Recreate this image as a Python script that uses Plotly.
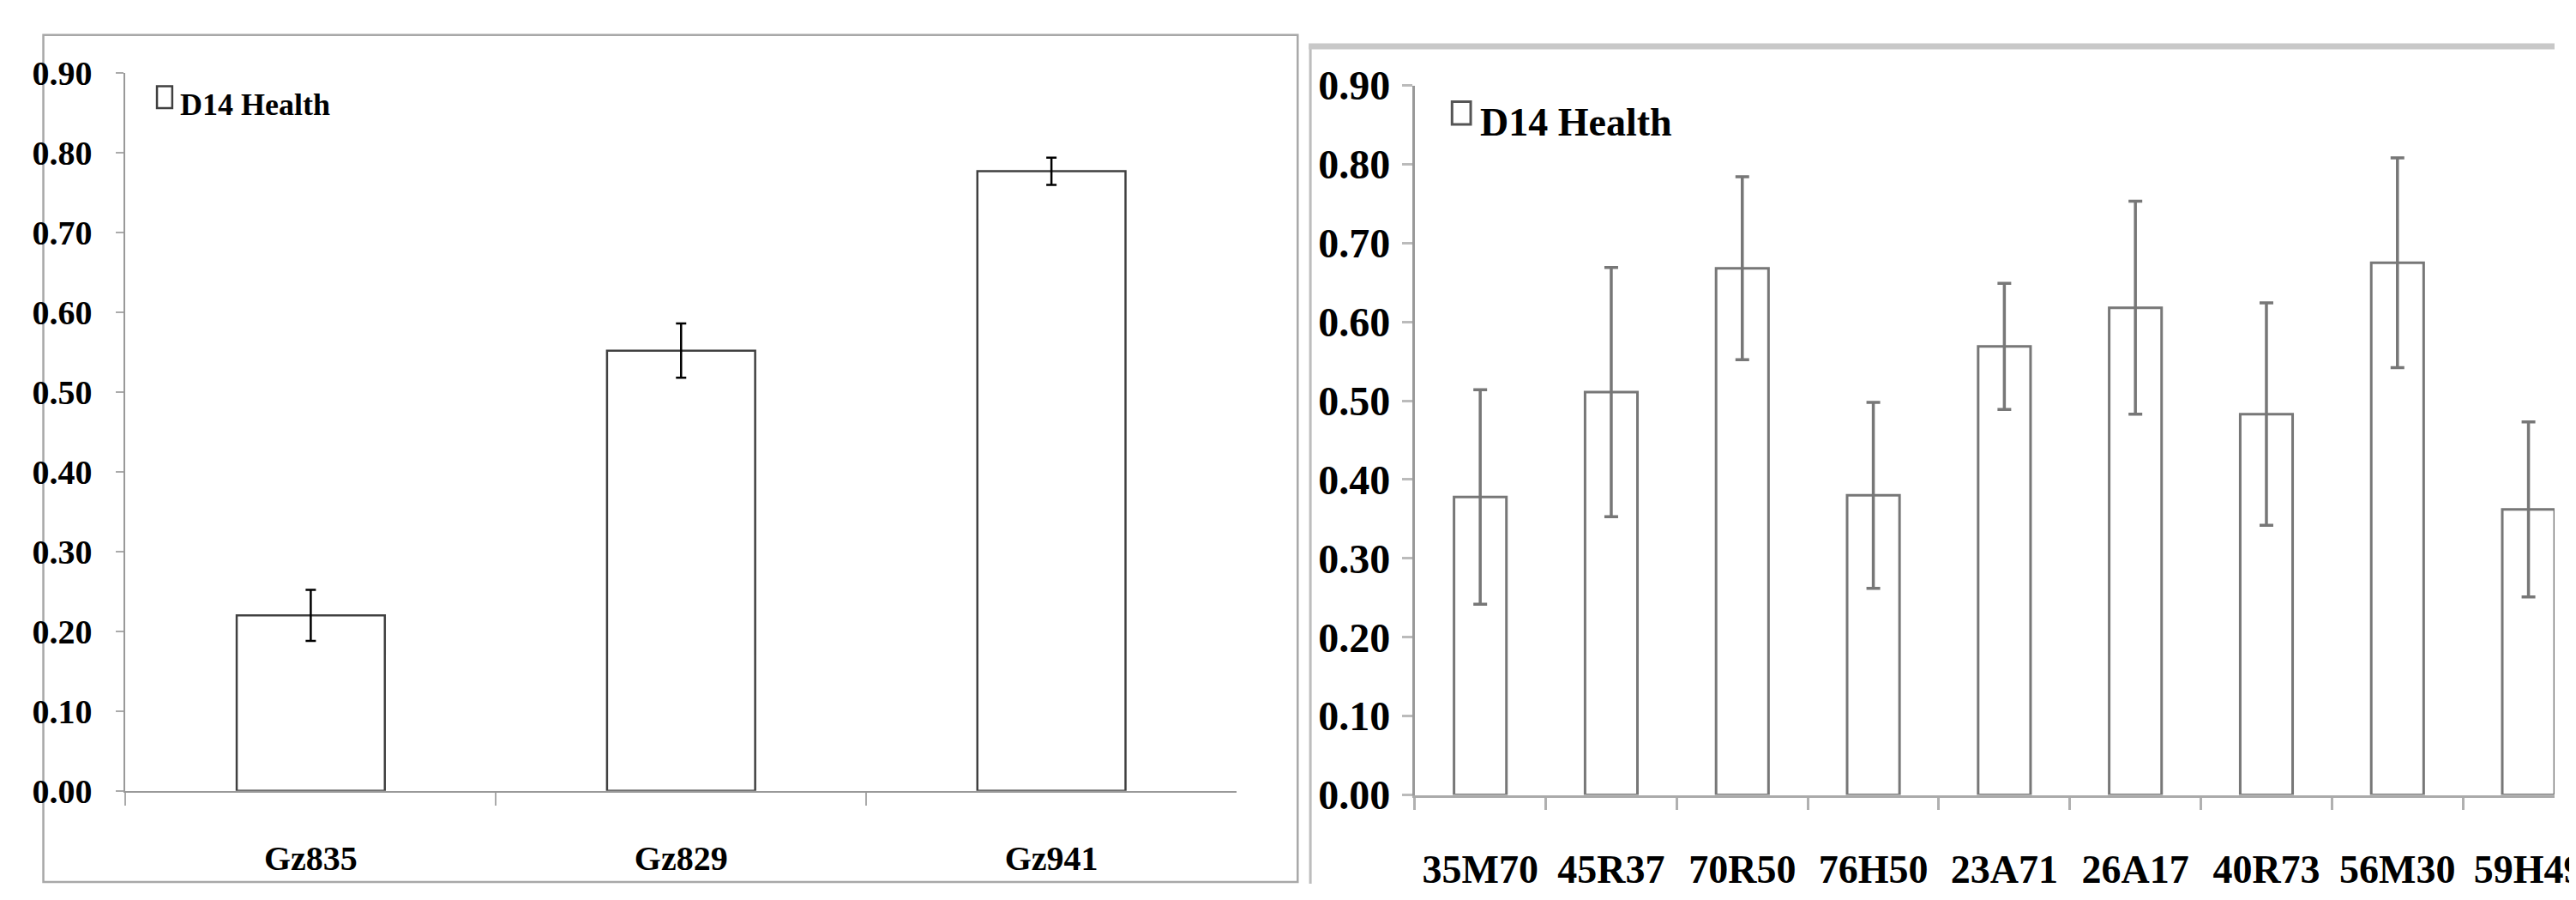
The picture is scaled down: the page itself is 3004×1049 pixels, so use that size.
import plotly.graph_objects as go

W, H = 3004, 1049

# ---------------- data ----------------
left_categories = ["Gz835", "Gz829", "Gz941"]
left_values = [0.220, 0.552, 0.777]
left_errors = [0.032, 0.034, 0.017]

right_categories = ["35M70", "45R37", "70R50", "76H50", "23A71", "26A17", "40R73", "56M30", "59H49"]
right_values = [0.378, 0.511, 0.668, 0.380, 0.569, 0.618, 0.483, 0.675, 0.362]
right_errors = [0.136, 0.158, 0.116, 0.118, 0.080, 0.135, 0.141, 0.133, 0.111]

y_tick_values = [0.0, 0.1, 0.2, 0.3, 0.4, 0.5, 0.6, 0.7, 0.8, 0.9]
series_name = "D14 Health"

FONT = "Liberation Serif, Times New Roman, serif"


def px_x(p):
    return p / W


def px_y(p):
    return 1 - p / H


fig = go.Figure()

fig.add_trace(go.Bar(
    x=left_categories, y=left_values, name=series_name,
    marker=dict(color="white", line=dict(color="#404040", width=2.5)),
    error_y=dict(type="data", array=left_errors, visible=True,
                 color="black", thickness=2.5, width=6),
    width=0.4, xaxis="x", yaxis="y", showlegend=False,
))

fig.add_trace(go.Bar(
    x=right_categories, y=right_values, name=series_name,
    marker=dict(color="white", line=dict(color="#777777", width=3)),
    error_y=dict(type="data", array=right_errors, visible=True,
                 color="#777777", thickness=3.5, width=8),
    width=0.4, xaxis="x2", yaxis="y2", showlegend=False,
))

y_left_bottom, y_left_top = 935, 54
y_right_bottom, y_right_top = 940, 69
right_axis_x = 1660
right_cat_w = 154.5

annotations = [
    dict(text=series_name, xref="paper", yref="paper",
         x=px_x(202), y=px_y(93), xanchor="left", yanchor="middle", showarrow=False,
         font=dict(size=36, family=FONT, color="black", weight="bold")),
    dict(text=series_name, xref="paper", yref="paper",
         x=px_x(1735), y=px_y(114), xanchor="left", yanchor="middle", showarrow=False,
         font=dict(size=46, family=FONT, color="black", weight="bold")),
]

fig.update_layout(
    width=W, height=H,
    margin=dict(l=0, r=0, t=0, b=0),
    paper_bgcolor="white", plot_bgcolor="white",
    showlegend=False,
    font=dict(family=FONT, color="black", weight="bold"),
    xaxis=dict(
        domain=[px_x(140), px_x(1450)], anchor="y",
        type="category", range=[-0.5, 2.5],
        showline=True, linecolor="#999999", linewidth=2,
        ticks="outside", tickson="boundaries", ticklen=15, tickcolor="#aaaaaa", tickwidth=1.5,
        tickfont=dict(size=40, family=FONT, weight="bold"),
        ticklabelstandoff=42,
        showgrid=False, zeroline=False, fixedrange=True,
    ),
    yaxis=dict(
        domain=[px_y(y_left_bottom), px_y(y_left_top)], anchor="x",
        range=[0, 0.9], tickvals=y_tick_values, tickformat=".2f",
        showline=True, linecolor="#999999", linewidth=2,
        ticks="outside", ticklen=9, tickcolor="#aaaaaa", tickwidth=1.5,
        tickfont=dict(size=40, family=FONT, weight="bold"),
        ticklabelstandoff=20,
        showgrid=False, zeroline=False, fixedrange=True,
    ),
    xaxis2=dict(
        domain=[px_x(right_axis_x), 1.0], anchor="y2",
        type="category",
        range=[-0.5, (W - right_axis_x) / right_cat_w - 0.5],
        showline=True, linecolor="#aaaaaa", linewidth=3,
        ticks="outside", tickson="boundaries", ticklen=14, tickcolor="#b0b0b0", tickwidth=3,
        tickfont=dict(size=46, family=FONT, weight="bold"),
        ticklabelstandoff=44,
        showgrid=False, zeroline=False, fixedrange=True,
    ),
    yaxis2=dict(
        domain=[px_y(y_right_bottom), px_y(y_right_top)], anchor="x2",
        range=[0, 0.9], tickvals=y_tick_values, tickformat=".2f",
        showline=True, linecolor="#999999", linewidth=3,
        ticks="outside", ticklen=12, tickcolor="#bbbbbb", tickwidth=3,
        tickfont=dict(size=48, family=FONT, weight="bold"),
        ticklabelstandoff=4,
        showgrid=False, zeroline=False, fixedrange=True,
    ),
    annotations=annotations,
    shapes=[
        # left chart frame
        dict(type="rect", xref="paper", yref="paper",
             x0=px_x(43), x1=px_x(1522), y0=px_y(1047), y1=px_y(7),
             line=dict(color="#a8a8a8", width=2.5), fillcolor="rgba(0,0,0,0)", layer="below"),
        # right chart frame (extends past the picture edge)
        dict(type="line", xref="paper", yref="paper",
             x0=px_x(1537), x1=px_x(1537), y0=0, y1=px_y(20),
             line=dict(color="#bdbdbd", width=3), layer="below"),
        dict(type="line", xref="paper", yref="paper",
             x0=px_x(1535), x1=1.0, y0=px_y(21), y1=px_y(21),
             line=dict(color="#c8c8c8", width=7), layer="below"),
        # legend swatches
        dict(type="rect", xref="paper", yref="paper",
             x0=px_x(177), x1=px_x(195), y0=px_y(97), y1=px_y(70),
             line=dict(color="#404040", width=2.5), fillcolor="white"),
        dict(type="rect", xref="paper", yref="paper",
             x0=px_x(1704), x1=px_x(1726), y0=px_y(117), y1=px_y(89),
             line=dict(color="#555555", width=3), fillcolor="white"),
    ],
)

fig.write_html("out.html")
